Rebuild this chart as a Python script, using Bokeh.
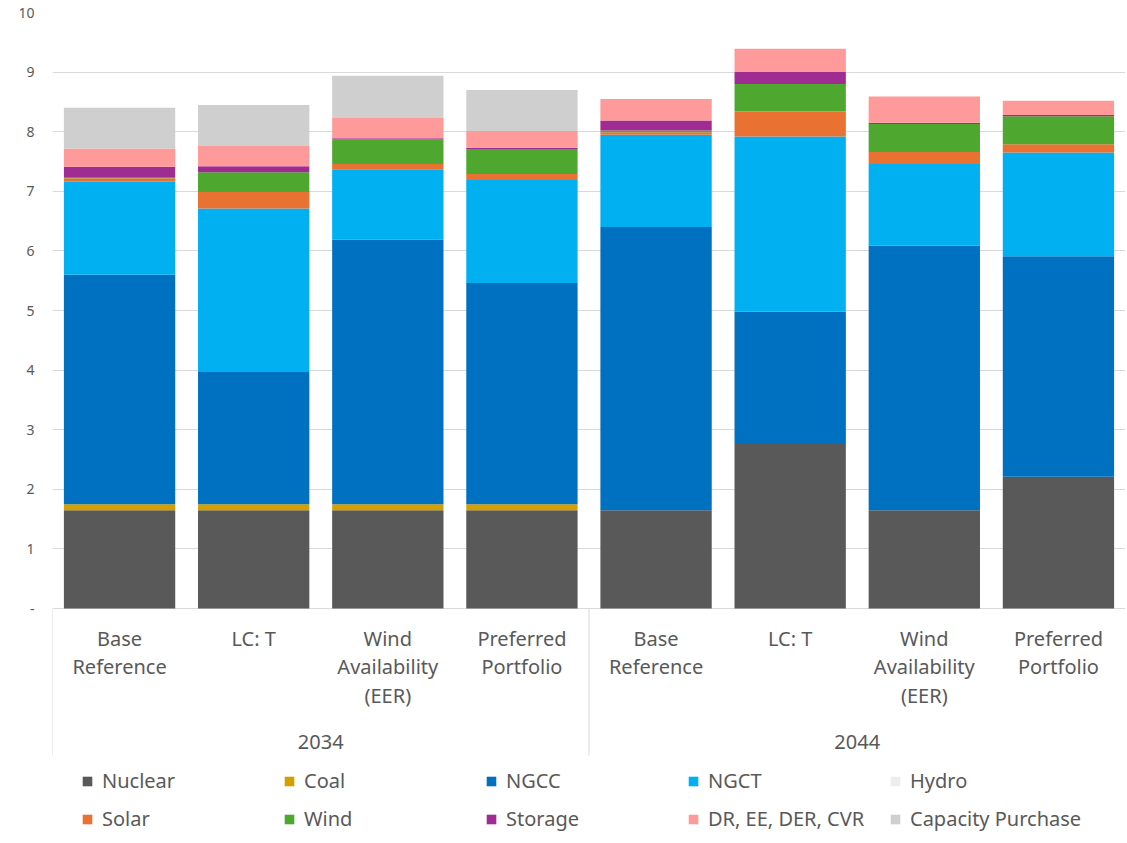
from bokeh.plotting import figure
from bokeh.models import FactorRange, Legend, LegendItem, FixedTicker, ColumnDataSource
from bokeh.core.properties import value
from bokeh.embed import file_html
from bokeh.resources import INLINE

years = ["2034", "2044"]
scenarios = ["Base\nReference", "LC: T", "Wind\nAvailability\n(EER)", "Preferred\nPortfolio"]

series_names = ["Nuclear", "Coal", "NGCC", "NGCT", "Hydro",
                "Solar", "Wind", "Storage", "DR, EE, DER, CVR", "Capacity Purchase"]

nuclear = [1.65, 1.65, 1.65, 1.65, 1.65, 2.76, 1.65, 2.21]
coal = [0.10, 0.10, 0.10, 0.10, 0.0, 0.0, 0.0, 0.0]
ngcc = [3.85, 2.23, 4.44, 3.71, 4.75, 2.22, 4.44, 3.70]
ngct = [1.56, 2.73, 1.18, 1.73, 1.55, 2.94, 1.37, 1.74]
hydro = [0.0, 0.0, 0.0, 0.0, 0.0, 0.0, 0.0, 0.0]
solar = [0.06, 0.28, 0.09, 0.10, 0.04, 0.42, 0.20, 0.14]
wind = [0.02, 0.33, 0.41, 0.42, 0.03, 0.46, 0.47, 0.47]
storage = [0.17, 0.10, 0.02, 0.02, 0.17, 0.20, 0.02, 0.02]
dr = [0.31, 0.34, 0.34, 0.28, 0.36, 0.39, 0.44, 0.24]
capacity = [0.68, 0.69, 0.71, 0.69, 0.0, 0.0, 0.0, 0.0]

y_ticks = list(range(0, 11))

colors = ["#595959", "#D4A000", "#0070C0", "#00B0F0", "#EDEDED",
          "#E97132", "#4EA72E", "#A02B93", "#FF9A9A", "#CFCFCF"]

factors = [(y, s) for y in years for s in scenarios]
keys = ["nuclear", "coal", "ngcc", "ngct", "hydro", "solar", "wind", "storage", "dr", "capacity"]
src = ColumnDataSource(dict(x=factors, nuclear=nuclear, coal=coal, ngcc=ngcc, ngct=ngct,
                            hydro=hydro, solar=solar, wind=wind, storage=storage, dr=dr,
                            capacity=capacity))

FONT = "Noto Sans"
TXT = "#595959"
GRID = "#D9D9D9"

# layout (pixels)
W, H = 1125, 841
LEFT, TOP = 52, 12
PLOT_PX = 596                 # pixels from 0 to 10
YMAX = 10
PX = YMAX / PLOT_PX           # data units per pixel
frame_h = H - TOP
y_start = YMAX - frame_h * PX

p = figure(x_range=FactorRange(*factors, factor_padding=0, group_padding=0, range_padding=0),
           y_range=(y_start, YMAX), width=W, height=H, output_backend="svg",
           toolbar_location=None, min_border_left=LEFT, min_border_right=0,
           min_border_top=TOP, min_border_bottom=0)

renderers = p.vbar_stack(keys, x="x", width=0.83, source=src, fill_color=colors,
                         line_color=None)

p.outline_line_color = None
p.xaxis.visible = False
p.xgrid.visible = False
p.ygrid.grid_line_color = GRID
p.ygrid.grid_line_width = 1

p.yaxis.ticker = FixedTicker(ticks=y_ticks)
p.yaxis.major_label_overrides = {0: "-"}
p.yaxis.axis_line_color = None
p.yaxis.major_tick_line_color = None
p.yaxis.minor_tick_line_color = None
p.yaxis.major_label_standoff = 12
p.yaxis.major_label_text_font = FONT
p.yaxis.major_label_text_font_size = "14px"
p.yaxis.major_label_text_color = TXT

# category labels (drawn below the zero line)
p.text(x=factors, y=[-16 * PX] * len(factors), text=[f[1] for f in factors],
       text_font=value(FONT), text_font_size="20px", text_color=TXT,
       text_align="center", text_baseline="top", text_line_height=1.07)
p.text(x=years, y=[-126 * PX] * len(years), text=years,
       text_font=value(FONT), text_font_size="20px", text_color=TXT,
       text_align="center", text_baseline="top")

# group separators (synthetic coordinates at group boundaries)
bounds = [i * len(scenarios) for i in range(len(years) + 1)]
p.segment(x0=bounds, y0=[0] * len(bounds), x1=bounds, y1=[-147 * PX] * len(bounds),
          line_color=GRID, line_width=1)

items = [LegendItem(label=n, renderers=[r]) for n, r in zip(series_names, renderers)]
legend = Legend(items=items, orientation="horizontal", ncols=5,
                label_text_font=FONT, label_text_font_size="20px", label_text_color=TXT,
                glyph_width=12, glyph_height=12, label_standoff=9, label_width=170,
                label_height=26, spacing=11, padding=5, margin=0,
                border_line_color=None, background_fill_alpha=0,
                location=(29, 9))
p.add_layout(legend, "center")

open("out.html", "w").write(file_html(p, INLINE))
